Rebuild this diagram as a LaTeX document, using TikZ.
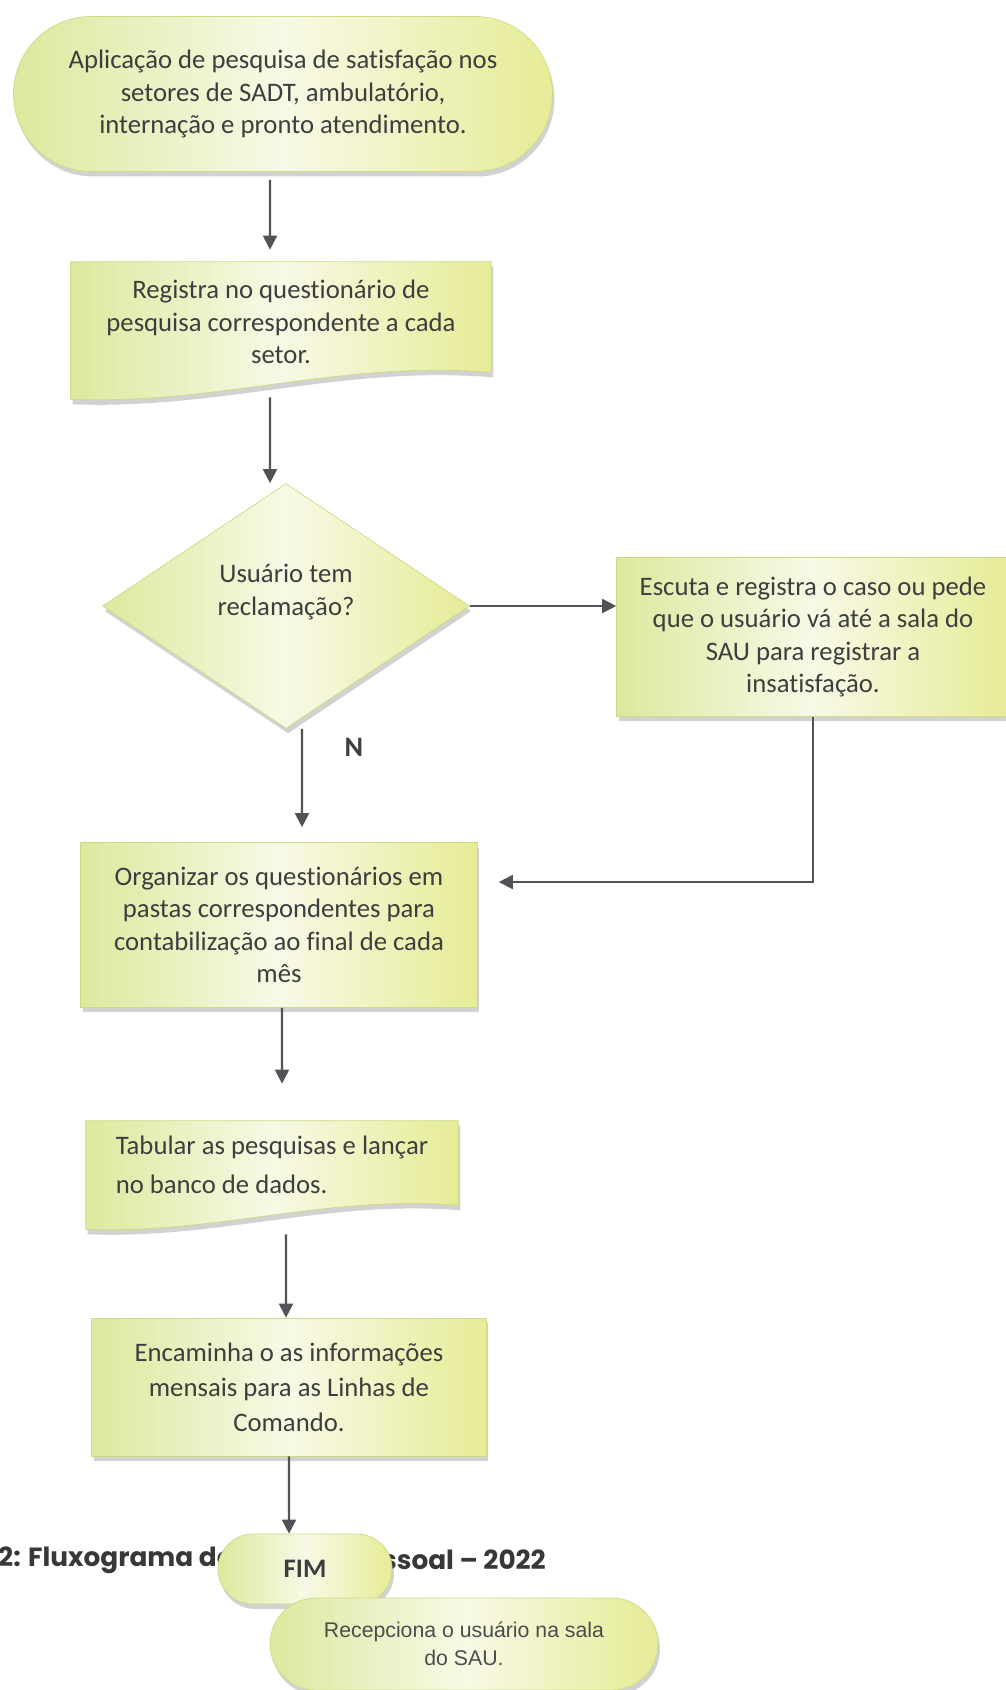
\documentclass[tikz,border=0pt]{standalone}
\usepackage{fontspec}
\setmainfont{Carlito}[Ligatures={TeX,NoCommon}]
\newfontfamily\arialfont{Liberation Sans}
\newfontfamily\captfont{Poppins}
\usetikzlibrary{shapes.geometric,shadows,arrows.meta,backgrounds}
\definecolor{boxleft}{RGB}{222,232,158}
\definecolor{boxmid}{RGB}{248,249,230}
\definecolor{boxright}{RGB}{230,236,150}
\definecolor{boxline}{RGB}{206,219,132}
\definecolor{txtgray}{RGB}{62,62,62}
\definecolor{arrgray}{RGB}{82,82,88}
\tikzset{
  boxfill/.style={left color=boxleft,right color=boxright,middle color=boxmid,draw=boxline,
    drop shadow={shadow xshift=0.04cm,shadow yshift=-0.1cm,opacity=0.35,fill=gray}},
  procbox/.style={boxfill,rectangle,align=center,text=txtgray,font=\fontsize{15.2}{18.4}\selectfont},
  docbox/.style={rectangle,align=center,text=txtgray,font=\fontsize{15.2}{18.4}\selectfont},
  decbox/.style={boxfill,diamond,align=center,text=txtgray,font=\fontsize{15.2}{18.4}\selectfont},
  arr/.style={-{Stealth[length=8pt,width=8pt,inset=0pt]},line width=1.2pt,draw=arrgray},
  nlab/.style={text=txtgray,font=\fontsize{16}{19}\selectfont\bfseries},
  capt/.style={text=black!78,font=\fontsize{15}{18}\selectfont\captfont\bfseries}
}
\begin{document}
\begin{tikzpicture}[x=0.02cm,y=-0.02cm]
\useasboundingbox(0,0)rectangle(1005,1690);
\begin{scope}[on background layer]
\fill[white](0,0)rectangle(1005,1690);
\end{scope}
% boxes
\node[procbox,minimum width=10.78cm,minimum height=3.1cm,rounded corners=1.55cm](start)at(283,94)
{Aplicação de pesquisa de satisfação nos\\setores de SADT, ambulatório,\\internação e pronto atendimento.};
\node[docbox,minimum width=8.4cm,minimum height=2.4cm](reg)at(281,322)
{Registra no questionário de\\pesquisa correspondente a cada\\setor.};
\node[decbox,minimum width=7.34cm,minimum height=4.9cm](dec)at(286,606){Usuário tem\\reclamação?\\~};
\node[procbox,minimum width=7.86cm,minimum height=3.18cm](esc)at(813,637)
{Escuta e registra o caso ou pede\\que o usuário vá até a sala do\\SAU para registrar a\\insatisfação.};
\node[procbox,minimum width=7.94cm,minimum height=3.3cm](org)at(279,925)
{Organizar os questionários em\\pastas correspondentes para\\contabilização ao final de cada\\mês};
\node[docbox,minimum width=7.44cm,minimum height=1.76cm,align=left,
font=\fontsize{15.2}{22}\selectfont](tab)at(272,1165)
{Tabular as pesquisas e lançar\\no banco de dados.};
\node[procbox,minimum width=7.9cm,minimum height=2.76cm,font=\fontsize{15.2}{20}\selectfont](enc)at(289,1387)
{Encaminha o as informações\\mensais para as Linhas de\\Comando.};
\node[capt,anchor=west](capl)at(-8,1560){2: Fluxograma do};
\node[capt,anchor=east](capr)at(552,1560){ssoal – 2022};
\node[procbox,minimum width=3.48cm,minimum height=1.4cm,rounded corners=0.7cm,
font=\fontsize{15.2}{18.4}\selectfont\bfseries](fim)at(305,1569){FIM};
\node[procbox,minimum width=7.76cm,minimum height=1.84cm,rounded corners=0.92cm,text=black!70,
font=\fontsize{12.1}{15.9}\selectfont\arialfont](rec)at(464,1644)
{Recepciona o usuário na sala\\do SAU.};
\begin{scope}[on background layer]
\path[boxfill](reg.north west)--(reg.north east)--([yshift=0.2cm]reg.south east)
.. controls ([xshift=-3cm,yshift=0.45cm]reg.south east) and ([xshift=3cm,yshift=-0.45cm]reg.south west) .. ([yshift=-0.34cm]reg.south west)--cycle;
\path[boxfill](tab.north west)--(tab.north east)--([yshift=0.08cm]tab.south east)
.. controls ([xshift=-2.6cm,yshift=0.3cm]tab.south east) and ([xshift=2.6cm,yshift=-0.5cm]tab.south west) .. ([yshift=-0.4cm]tab.south west)--cycle;
\end{scope}
% connectors
\draw[arr,shorten <=0.16cm,shorten >=0.24cm]([xshift=-0.26cm]start.south)--([xshift=-0.22cm]reg.north);
\draw[arr,shorten <=0.3cm]([xshift=-0.22cm]reg.south)--([xshift=-0.32cm]dec.north);
\draw[arr,shorten >=0.3cm]([xshift=0.32cm]dec.south)--([xshift=0.46cm]org.north);
\node[nlab](nlbl)at(354,747){N};
\draw[arr](dec.east)--(dec.east-|esc.west);
\draw[arr](esc.south)|-([xshift=0.42cm,yshift=0.86cm]org.east);
\draw[arr,shorten >=0.74cm]([xshift=0.06cm]org.south)--([xshift=0.2cm]tab.north);
\draw[arr,shorten <=0.5cm]([xshift=0.28cm]tab.south)--([xshift=-0.06cm]enc.north);
\draw[arr](enc.south)--([xshift=-0.32cm]fim.north);
\end{tikzpicture}
\end{document}
